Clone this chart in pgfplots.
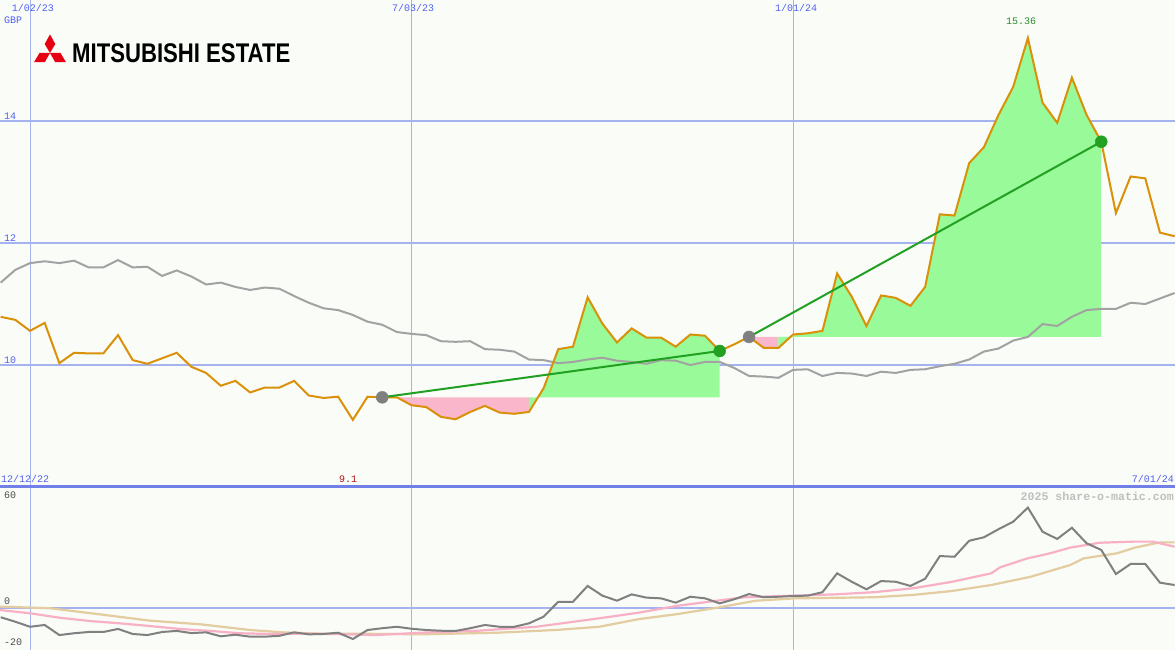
\documentclass[border=0pt]{standalone}
\usepackage{fontspec}
\usepackage{pgfplots}
\pgfplotsset{compat=1.18}
\usepackage{pgfplotstable}
\usepgfplotslibrary{fillbetween}
\setmainfont{Liberation Sans}
\newfontfamily\mono{Liberation Mono}
\newfontfamily\logofont{Liberation Sans}

\definecolor{bgcol}{RGB}{250,252,248}
\definecolor{gridblue}{RGB}{164,178,240}
\definecolor{thickblue}{RGB}{112,128,232}
\definecolor{labblue}{RGB}{80,96,240}
\definecolor{pricecol}{RGB}{218,145,10}
\definecolor{macol}{RGB}{162,162,162}
\definecolor{greenfill}{RGB}{152,250,152}
\definecolor{pinkfill}{RGB}{250,182,202}
\definecolor{greenline}{RGB}{34,160,34}
\definecolor{dotgray}{RGB}{128,128,128}
\definecolor{osc}{RGB}{128,128,128}
\definecolor{oscpink}{RGB}{248,176,198}
\definecolor{osctan}{RGB}{226,204,160}
\definecolor{darkred}{RGB}{170,20,20}
\definecolor{greenlab}{RGB}{40,140,40}
\definecolor{logored}{RGB}{230,0,18}

\pgfplotstableread{
i p m
-2 10.79 11.35
-1 10.74 11.56
0 10.56 11.67
1 10.69 11.70
2 10.03 11.67
3 10.20 11.71
4 10.19 11.60
5 10.19 11.60
6 10.49 11.72
7 10.08 11.60
8 10.02 11.61
9 10.11 11.46
10 10.20 11.55
11 9.97 11.45
12 9.87 11.32
13 9.66 11.35
14 9.74 11.28
15 9.55 11.23
16 9.63 11.27
17 9.63 11.25
18 9.74 11.13
19 9.50 11.02
20 9.46 10.93
21 9.48 10.90
22 9.10 10.82
23 9.48 10.71
24 9.47 10.66
25 9.47 10.54
26 9.34 10.51
27 9.31 10.49
28 9.15 10.39
29 9.11 10.38
30 9.23 10.39
31 9.33 10.26
32 9.22 10.25
33 9.20 10.22
34 9.23 10.09
35 9.62 10.08
36 10.26 10.03
37 10.30 10.05
38 11.11 10.09
39 10.68 10.12
40 10.37 10.07
41 10.60 10.05
42 10.45 10.02
43 10.45 10.08
44 10.30 10.07
45 10.50 10.00
46 10.48 10.05
47 10.23 10.05
48 10.34 9.95
49 10.46 9.82
50 10.28 9.81
51 10.28 9.79
52 10.50 9.92
53 10.52 9.93
54 10.56 9.82
55 11.50 9.87
56 11.12 9.86
57 10.64 9.82
58 11.14 9.89
59 11.10 9.87
60 10.97 9.92
61 11.28 9.93
62 12.47 9.98
63 12.45 10.02
64 13.31 10.09
65 13.57 10.22
66 14.10 10.27
67 14.56 10.40
68 15.36 10.46
69 14.30 10.67
70 13.97 10.64
71 14.71 10.79
72 14.10 10.90
73 13.66 10.92
74 12.49 10.92
75 13.09 11.02
76 13.06 11.00
77 12.17 11.09
78 12.11 11.18
}\topdata

\pgfplotstableread{
i v
-2 -5.3
-1 -7.8
0 -10.6
1 -9.6
2 -15.2
3 -14.2
4 -13.5
5 -13.5
6 -11.8
7 -14.6
8 -15.2
9 -13.5
10 -12.9
11 -14.1
12 -13.7
13 -15.9
14 -15.0
15 -16.1
16 -16.1
17 -15.6
18 -13.7
19 -14.8
20 -14.6
21 -13.9
22 -17.4
23 -12.4
24 -11.4
25 -10.6
26 -11.7
27 -12.4
28 -12.8
29 -12.9
30 -11.4
31 -9.6
32 -10.6
33 -10.6
34 -8.7
35 -5.0
36 3.3
37 3.3
38 12.1
39 6.7
40 3.9
41 7.4
42 5.6
43 5.2
44 2.8
45 6.1
46 5.2
47 2.4
48 4.7
49 7.6
50 5.8
51 6.1
52 6.5
53 6.7
54 8.6
55 19.1
56 14.4
57 10.2
58 14.8
59 14.4
60 12.1
61 16.1
62 28.7
63 28.3
64 37.2
65 39.1
66 43.6
67 47.8
68 55.6
69 42.2
70 38.2
71 44.4
72 35.8
73 32.1
74 18.7
75 24.3
76 24.3
77 13.9
78 12.6
}\oscdata

\pgfplotstableread{
i v
-2.04 -1.3
0 -3.1
2.04 -5.6
4.09 -7.4
6.13 -8.7
8.18 -10.2
10.2 -11.8
12.27 -12.9
14.31 -14.2
16.36 -14.6
18.4 -14.4
20.65 -14.6
23.5 -15.2
26.65 -13.9
30.53 -12.8
34.49 -10.6
38.78 -5.9
41.44 -2.8
44.16 1.1
46.82 3.9
48.66 5.8
52.14 6.7
54.83 7.4
57.50 8.6
60.18 10.8
62.84 14.4
65.50 19.1
66.1 22.4
67.93 27.3
69.5 30.2
70.9 33.4
72.9 36.1
75.2 36.7
76.5 36.7
78.0 33.9
}\pinkdata

\pgfplotstableread{
i v
-2.04 0.6
1.36 -0.3
4.77 -3.7
8.18 -7.2
11.59 -9.2
14.99 -12.4
17.24 -13.7
19.56 -14.4
21.81 -14.4
26.65 -14.8
31.85 -13.9
35.78 -12.4
38.78 -10.6
41.44 -6.4
44.16 -3.5
46.82 0.0
49.48 3.9
52.14 5.2
57.52 5.8
60.18 7.1
62.84 9.3
65.50 12.6
68.2 17.2
70.88 23.7
71.8 27.4
74.06 30.2
75.3 33.4
77.0 36.3
78.0 36.3
}\tandata

\begin{document}
\begin{tikzpicture}

% ---------- top panel ----------
\begin{axis}[at={(0pt,163pt)}, anchor=south west, scale only axis,
  width=1175pt, height=487pt,
  xmin=-2.045, xmax=78.03, ymin=8, ymax=15.9836,
  axis background/.style={fill=bgcol},
  axis line style={draw=none}, tick style={draw=none},
  xtick=\empty, ytick={10,12,14}, yticklabels={,,},
  ymajorgrids, major grid style={gridblue, line width=2pt},
  extra x ticks={0,26,52}, extra x tick labels={,,},
  extra x tick style={grid=major, major grid style={gridblue, line width=1pt}},
  clip=true]
\addplot[draw=none, name path=P, forget plot] table[x=i,y=p]{\topdata};
\addplot[draw=none, name path=B1, forget plot] coordinates {(-2.5,9.47) (78.5,9.47)};
\addplot[draw=none, name path=B2, forget plot] coordinates {(-2.5,10.46) (78.5,10.46)};
\addplot[fill=pinkfill, draw=none] fill between[of=P and B1, soft clip={domain=24:34}];
\addplot[fill=greenfill, draw=none] fill between[of=P and B1, soft clip={domain=34:47}];
\addplot[fill=pinkfill, draw=none] fill between[of=P and B2, soft clip={domain=49:51}];
\addplot[fill=greenfill, draw=none] fill between[of=P and B2, soft clip={domain=51:73}];
\addplot[macol, line width=2pt, mark=none] table[x=i,y=m]{\topdata};
\addplot[pricecol, line width=2pt, mark=none] table[x=i,y=p]{\topdata};
\addplot[greenline, line width=2pt, mark=none] coordinates {(24,9.47) (47,10.23)};
\addplot[greenline, line width=2pt, mark=none] coordinates {(49,10.46) (73,13.66)};
\addplot[only marks, mark=*, mark size=6pt, mark options={fill=dotgray, draw=dotgray}] coordinates {(24,9.47) (49,10.46)};
\addplot[only marks, mark=*, mark size=6pt, mark options={fill=greenline, draw=greenline}] coordinates {(47,10.23) (73,13.66)};
\end{axis}

% ---------- bottom panel ----------
\begin{axis}[at={(0pt,0pt)}, anchor=south west, scale only axis,
  width=1175pt, height=163pt,
  xmin=-2.045, xmax=78.03, ymin=-23.5, ymax=67.06,
  axis background/.style={fill=bgcol},
  axis line style={draw=none}, tick style={draw=none},
  xtick=\empty, ytick={0}, yticklabels={,},
  ymajorgrids, major grid style={gridblue, line width=2pt},
  extra x ticks={0,26,52}, extra x tick labels={,,},
  extra x tick style={grid=major, major grid style={gridblue, line width=1pt}},
  clip=true]
\addplot[osctan, line width=2.2pt, mark=none] table[x=i,y=v]{\tandata};
\addplot[oscpink, line width=2.2pt, mark=none] table[x=i,y=v]{\pinkdata};
\addplot[osc, line width=2pt, mark=none] table[x=i,y=v]{\oscdata};
\end{axis}

\draw[thickblue, line width=3pt] (0pt,163pt) -- (1175pt,163pt);

% ---------- logo ----------
\foreach \a in {0,120,240}
  \fill[logored, rotate around={\a:(50pt,597pt)}] (50pt,597pt) -- (55.3pt,606pt) -- (50pt,615.5pt) -- (44.7pt,606pt) -- cycle;
\node[anchor=base west, inner sep=0pt, xscale=0.82] at (72pt,587.5pt)
  {\logofont\bfseries\fontsize{27}{27}\selectfont MITSUBISHI ESTATE};

% ---------- labels ----------
\begin{scope}[every node/.style={inner sep=0pt, font=\mono\fontsize{10}{10}\selectfont}]
\node[text=labblue] at (33pt,642pt) {1/02/23};
\node[text=labblue] at (413pt,642pt) {7/03/23};
\node[text=labblue] at (796pt,642pt) {1/01/24};
\node[text=labblue, anchor=west] at (4pt,630pt) {GBP};
\node[text=labblue, anchor=west] at (4pt,534pt) {14};
\node[text=labblue, anchor=west] at (4pt,412pt) {12};
\node[text=labblue, anchor=west] at (4pt,290pt) {10};
\node[text=greenlab] at (1021pt,629pt) {15.36};
\node[text=darkred] at (348pt,171pt) {9.1};
\node[text=labblue, anchor=west] at (1pt,171pt) {12/12/22};
\node[text=labblue, anchor=east] at (1174pt,171pt) {7/01/24};
\node[text=black!70, anchor=west] at (4pt,155pt) {60};
\node[text=black!70, anchor=west] at (4pt,49pt) {0};
\node[text=black!70, anchor=west] at (4pt,8pt) {-20};
\node[text=black!25, anchor=east, font=\mono\bfseries\fontsize{11.6}{11.6}\selectfont] at (1174pt,154pt) {2025 share-o-matic.com};
\end{scope}

\pgfresetboundingbox
\path[use as bounding box] (0pt,0pt) rectangle (1175pt,650pt);
\end{tikzpicture}
\end{document}
